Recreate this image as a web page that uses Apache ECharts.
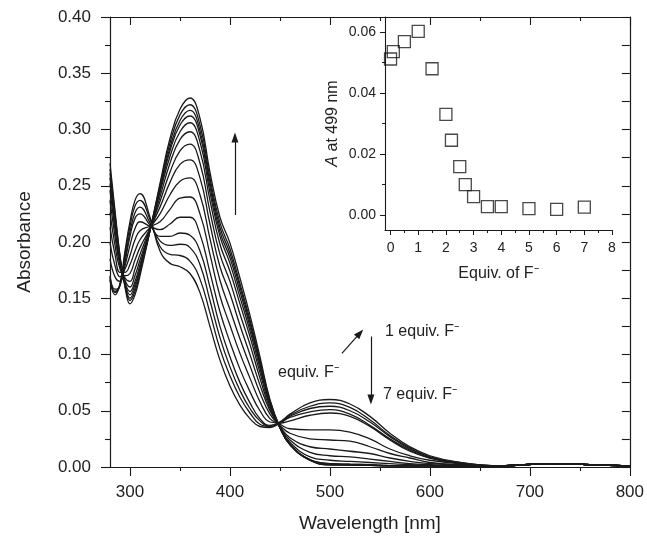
<!DOCTYPE html>
<html>
<head>
<meta charset="utf-8">
<script src="https://cdn.jsdelivr.net/npm/echarts@6/dist/echarts.min.js"></script>
<style>
  html, body { margin: 0; padding: 0; background: #fff; }
  #chart { width: 647px; height: 543px; }
</style>
</head>
<body>
<div id="chart"></div>
<script>
// wavelengths (nm) at which the spectra were read
var wavelengths = [280, 285, 290, 295, 300, 305, 310, 320, 330, 340, 350, 360, 370, 380, 390, 400, 410, 420, 430, 440, 450, 460, 480, 500, 520, 540, 560, 580, 600, 630, 670, 720, 760, 800];

// absorbance spectra, one per addition of F-
var specEq0   = [.166, .153, .163, .192, .218, .237, .243, .222, .192, .181, .178, .172, .155, .125, .095, .072, .055, .043, .036, .035, .039, .044, .049, .051, .047, .037, .025, .015, .008, .003, .001, .003, .002, .001];
var specEq0_1 = [.167, .155, .162, .189, .214, .232, .237, .220, .196, .189, .188, .183, .167, .137, .105, .081, .062, .048, .038, .036, .039, .045, .052, .054, .050, .040, .027, .016, .009, .003, .001, .003, .002, .001];
var specEq0_5 = [.169, .156, .162, .185, .209, .226, .231, .217, .201, .197, .198, .195, .180, .148, .115, .089, .068, .052, .041, .036, .040, .046, .054, .057, .053, .042, .028, .017, .009, .004, .001, .003, .002, .001];
var specEq1   = [.170, .158, .161, .182, .205, .221, .225, .215, .205, .205, .208, .206, .192, .160, .125, .098, .075, .057, .043, .037, .040, .047, .057, .060, .056, .045, .030, .018, .010, .004, .001, .003, .002, .001];
var specEq1_5 = [.185, .169, .165, .179, .197, .212, .218, .214, .211, .216, .222, .222, .207, .173, .138, .111, .087, .067, .050, .040, .039, .041, .046, .048, .045, .036, .024, .014, .008, .003, .001, .003, .002, .001];
var specEq2   = [.199, .179, .169, .176, .188, .202, .210, .214, .218, .229, .239, .240, .225, .189, .152, .126, .101, .079, .058, .043, .038, .034, .033, .033, .031, .025, .016, .010, .006, .003, .001, .003, .002, .001];
var specEq2_2 = [.213, .189, .173, .173, .180, .192, .202, .213, .225, .242, .254, .257, .242, .203, .166, .140, .114, .090, .066, .047, .037, .030, .025, .024, .023, .018, .012, .008, .004, .002, .001, .003, .002, .001];
var specEq2_5 = [.226, .197, .176, .170, .172, .184, .195, .212, .231, .253, .269, .273, .257, .216, .178, .154, .126, .100, .073, .050, .036, .026, .018, .016, .014, .012, .008, .005, .003, .002, .001, .003, .002, .001];
var specEq2_7 = [.237, .205, .179, .168, .165, .176, .189, .212, .236, .262, .281, .287, .270, .227, .189, .165, .136, .109, .079, .052, .036, .024, .013, .010, .009, .007, .005, .003, .002, .001, .001, .003, .002, .001];
var specEq3   = [.246, .211, .182, .166, .160, .170, .184, .211, .240, .270, .291, .298, .281, .237, .198, .174, .145, .116, .084, .054, .035, .022, .009, .006, .005, .004, .003, .002, .0015, .001, .001, .003, .002, .001];
var specEq3_5 = [.252, .216, .183, .164, .156, .165, .180, .211, .244, .276, .298, .306, .289, .244, .205, .181, .151, .121, .088, .056, .035, .020, .0065, .003, .0025, .002, .0013, .001, .001, .001, .001, .003, .002, .001];
var specEq4   = [.257, .219, .185, .163, .153, .162, .177, .211, .246, .281, .304, .312, .295, .249, .209, .186, .156, .125, .091, .057, .035, .020, .0065, .003, .0025, .002, .0013, .001, .001, .001, .001, .003, .002, .001];
var specEq5   = [.261, .222, .186, .162, .150, .159, .175, .210, .248, .284, .308, .317, .299, .253, .213, .190, .160, .128, .093, .058, .035, .020, .006, .002, .002, .0015, .001, .001, .001, .001, .001, .003, .002, .001];
var specEq6   = [.265, .225, .187, .161, .148, .156, .173, .210, .250, .288, .313, .322, .304, .257, .217, .194, .163, .131, .095, .059, .035, .020, .006, .0018, .0017, .0014, .001, .001, .001, .001, .001, .003, .002, .001];
var specEq7   = [.270, .228, .188, .160, .145, .153, .170, .210, .252, .292, .318, .328, .310, .262, .222, .199, .168, .135, .098, .060, .035, .020, .006, .0025, .002, .0015, .001, .001, .001, .001, .001, .003, .002, .001];

var spectra = [specEq0, specEq0_1, specEq0_5, specEq1, specEq1_5, specEq2, specEq2_2, specEq2_5, specEq2_7, specEq3, specEq3_5, specEq4, specEq5, specEq6, specEq7];

// inset: absorbance at 499 nm vs equivalents of F-
var equivalents = [0, 0.1, 0.5, 1, 1.5, 2, 2.2, 2.5, 2.7, 3, 3.5, 4, 5, 6, 7];
var absAt499 = [0.0512, 0.0536, 0.0569, 0.0603, 0.0480, 0.0330, 0.0245, 0.0158, 0.0099, 0.0060, 0.0027, 0.0027, 0.0020, 0.0018, 0.0025];

// tick positions
var wlMajor = [300, 400, 500, 600, 700, 800];
var wlMinor = [350, 450, 550, 650, 750];
var eqMajor = [0, 1, 2, 3, 4, 5, 6, 7, 8];
var eqMinor = [0.5, 1.5, 2.5, 3.5, 4.5, 5.5, 6.5, 7.5];
var insetYMajor = [0, 0.02, 0.04, 0.06];
var insetYMinor = [0.01, 0.03, 0.05];

var ink = '#1a1a1a';
var fontFam = 'Liberation Sans, Arial, sans-serif';

var myChart = echarts.init(document.getElementById('chart'));

var series = [];
spectra.forEach(function(arr) {
    series.push({
        type: 'line',
        xAxisIndex: 0,
        yAxisIndex: 0,
        data: wavelengths.map(function(w, i) { return [w, arr[i]]; }),
        showSymbol: false,
        smooth: 0.45,
        lineStyle: { color: ink, width: 1.3 },
        silent: true,
        z: 2
    });
});

// arrows drawn in data coordinates
series.push({
    type: 'line',
    xAxisIndex: 0,
    yAxisIndex: 0,
    data: [],
    markLine: {
        silent: true,
        symbol: ['none', 'triangle'],
        symbolSize: [7, 10],
        label: { show: false },
        lineStyle: { color: ink, width: 1.2, type: 'solid' },
        data: [
            [{ coord: [405, 0.224] }, { coord: [405, 0.293] }],
            [{ coord: [512, 0.101] }, { coord: [530, 0.119] }],
            [{ coord: [541, 0.116] }, { coord: [541, 0.060] }]
        ]
    }
});

series.push({
    type: 'scatter',
    xAxisIndex: 4,
    yAxisIndex: 2,
    data: equivalents.map(function(e, i) { return [e, absAt499[i]]; }),
    symbol: 'rect',
    symbolSize: 12,
    itemStyle: { color: 'rgba(0,0,0,0)', borderColor: ink, borderWidth: 1.3 },
    silent: true,
    z: 3
});

function tickAxis(extra) {
    var base = {
        type: 'value',
        splitLine: { show: false },
        axisLine: { show: false, onZero: false },
        axisLabel: { show: false },
        axisTick: { show: false }
    };
    return Object.assign(base, extra);
}

option = {
    animation: false,
    backgroundColor: '#fff',
    textStyle: { fontFamily: fontFam },
    grid: [
        { left: 110, top: 17, width: 520, height: 450 },
        { left: 385, top: 17, width: 227, height: 213 }
    ],
    xAxis: [
        tickAxis({
            gridIndex: 0, position: 'bottom', min: 280, max: 800,
            axisLine: { show: true, onZero: false, lineStyle: { color: ink, width: 1.2 } },
            axisTick: { show: true, customValues: wlMajor, length: 9, lineStyle: { color: ink, width: 1.1 } },
            axisLabel: { show: true, customValues: wlMajor, fontSize: 17, color: '#222', margin: 17, fontFamily: fontFam },
            name: 'Wavelength [nm]', nameLocation: 'middle', nameGap: 47,
            nameTextStyle: { fontSize: 19, color: '#222', fontFamily: fontFam }
        }),
        tickAxis({
            gridIndex: 0, position: 'bottom', min: 280, max: 800,
            axisTick: { show: true, customValues: wlMinor, length: 4, lineStyle: { color: ink, width: 1.1 } }
        }),
        tickAxis({
            gridIndex: 0, position: 'top', min: 280, max: 800,
            axisLine: { show: true, onZero: false, lineStyle: { color: ink, width: 1.2 } },
            axisTick: { show: true, inside: true, customValues: wlMajor, length: 8, lineStyle: { color: ink, width: 1.1 } }
        }),
        tickAxis({
            gridIndex: 0, position: 'top', min: 280, max: 800,
            axisTick: { show: true, inside: true, customValues: wlMinor, length: 4, lineStyle: { color: ink, width: 1.1 } }
        }),
        tickAxis({
            gridIndex: 1, position: 'bottom', min: -0.2, max: 8,
            axisLine: { show: true, onZero: false, lineStyle: { color: ink, width: 1.1 } },
            axisTick: { show: true, customValues: eqMajor, length: 5, lineStyle: { color: ink, width: 1 } },
            axisLabel: { show: true, customValues: eqMajor, fontSize: 14, color: '#222', margin: 11, fontFamily: fontFam },
            name: 'Equiv. of F\u207B', nameLocation: 'middle', nameGap: 36,
            nameTextStyle: { fontSize: 16, color: '#222', fontFamily: fontFam }
        }),
        tickAxis({
            gridIndex: 1, position: 'bottom', min: -0.2, max: 8,
            axisTick: { show: true, customValues: eqMinor, length: 3, lineStyle: { color: ink, width: 1 } }
        })
    ],
    yAxis: [
        tickAxis({
            gridIndex: 0, position: 'left', min: 0, max: 0.4, interval: 0.05,
            axisLine: { show: true, onZero: false, lineStyle: { color: ink, width: 1.2 } },
            axisTick: { show: true, length: 9, lineStyle: { color: ink, width: 1.1 } },
            minorTick: { show: true, splitNumber: 2, length: 5, lineStyle: { color: ink, width: 1.1 } },
            axisLabel: {
                show: true, fontSize: 17, color: '#222', margin: 19, fontFamily: fontFam,
                formatter: function(v) { return v.toFixed(2); }
            },
            name: 'Absorbance', nameLocation: 'middle', nameGap: 76, nameRotate: 90,
            nameTextStyle: { fontSize: 19, color: '#222', fontFamily: fontFam }
        }),
        tickAxis({
            gridIndex: 0, position: 'right', min: 0, max: 0.4, interval: 0.025,
            axisLine: { show: true, onZero: false, lineStyle: { color: ink, width: 1.2 } },
            axisTick: { show: true, inside: true, length: 8, lineStyle: { color: ink, width: 1.1 } }
        }),
        tickAxis({
            gridIndex: 1, position: 'left', min: -0.005, max: 0.065,
            axisLine: { show: true, onZero: false, lineStyle: { color: ink, width: 1.1 } },
            axisTick: { show: true, customValues: insetYMajor, length: 5, lineStyle: { color: ink, width: 1 } },
            axisLabel: {
                show: true, customValues: insetYMajor, fontSize: 14, color: '#222', margin: 9, fontFamily: fontFam,
                formatter: function(v) { return v.toFixed(2); }
            },
            name: '{i|A} at 499 nm', nameLocation: 'middle', nameGap: 44, nameRotate: 90,
            nameTextStyle: {
                fontSize: 16, color: '#222', fontFamily: fontFam,
                rich: { i: { fontStyle: 'italic', fontSize: 16, color: '#222', fontFamily: fontFam } }
            }
        }),
        tickAxis({
            gridIndex: 1, position: 'left', min: -0.005, max: 0.065,
            axisTick: { show: true, customValues: insetYMinor, length: 3, lineStyle: { color: ink, width: 1 } }
        })
    ],
    graphic: [
        { type: 'text', left: 385, top: 324, style: { text: '1 equiv. F\u207B', fontSize: 16, fill: '#222', fontFamily: fontFam } },
        { type: 'text', left: 383, top: 387, style: { text: '7 equiv. F\u207B', fontSize: 16, fill: '#222', fontFamily: fontFam } },
        { type: 'text', left: 278, top: 365, style: { text: 'equiv. F\u207B', fontSize: 16, fill: '#222', fontFamily: fontFam } }
    ],
    series: series
};

myChart.setOption(option);

window.addEventListener('resize', function() {
    myChart.resize();
});
</script>
</body>
</html>
